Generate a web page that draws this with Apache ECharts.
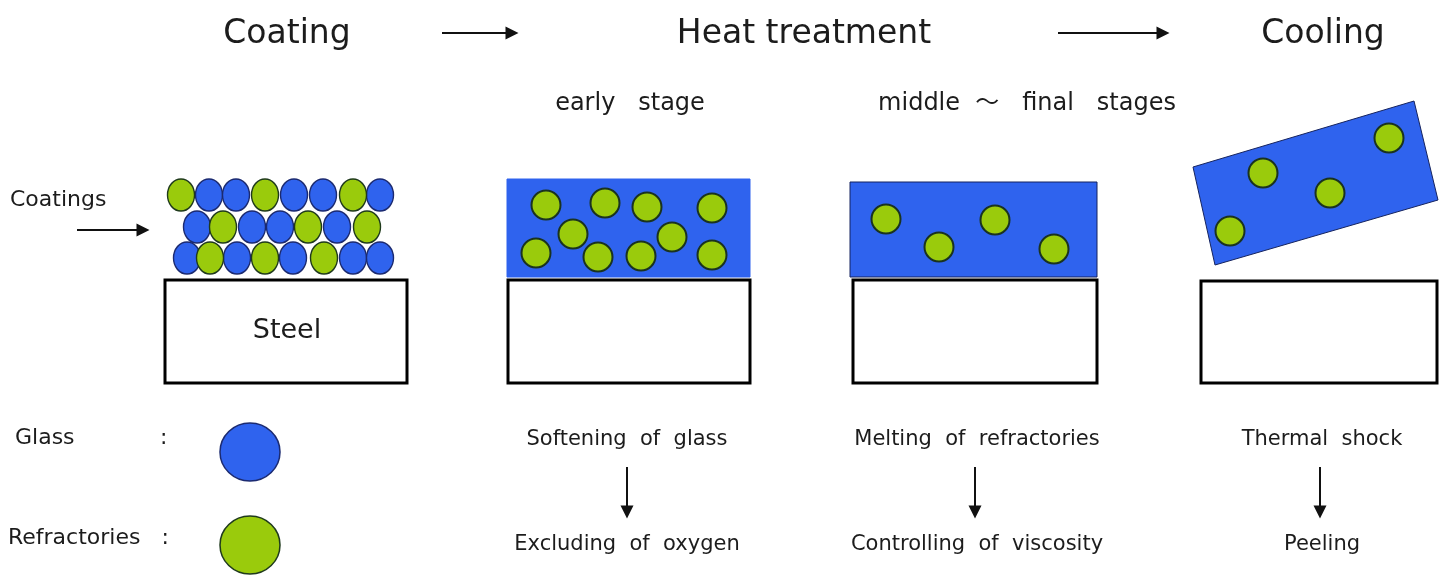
<!DOCTYPE html>
<html>
<head>
<meta charset="utf-8">
<script src="https://cdn.jsdelivr.net/npm/echarts@6/dist/echarts.min.js"></script>
<style>
html,body{margin:0;padding:0;background:#fff;}
#main{width:1455px;height:585px;}
</style>
</head>
<body>
<div id="main"></div>
<script>
// canvas units: x 0..1455, y 0..585 (y downward)
var titleTexts = [['Coating', 287, 34], ['Heat treatment', 804, 34], ['Cooling', 1323, 34]];
var stageTexts = [['early   stage', 630, 104], ['middle  〜   final   stages', 1027, 104]];
var causeTexts = [['Softening  of  glass', 627, 440], ['Melting  of  refractories', 977, 440], ['Thermal  shock', 1322, 440]];
var effectTexts = [['Excluding  of  oxygen', 627, 545], ['Controlling  of  viscosity', 977, 545], ['Peeling', 1322, 545]];
var sideTexts = [['Coatings', 10, 200], ['Glass', 15, 438], [':', 160, 438], ['Refractories   :', 8, 538]];
var steelText = [['Steel', 287, 331]];

// arrows [from, to]
var flowArrows = [[[442, 33], [512, 33]], [[1058, 33], [1163, 33]]];
var smallArrows = [[[77, 230], [143, 230]], [[627, 467], [627, 512]], [[975, 467], [975, 512]], [[1320, 467], [1320, 512]]];

// steel boxes [x1, y1, x2, y2]
var steelBoxes = [[165, 280, 407, 383], [508, 280, 750, 383], [853, 280, 1097, 383], [1201, 281, 1437, 383]];
// molten glass layers, 4 corners each
var glassLayers = [
  [507, 179, 750, 179, 750, 277, 507, 277],
  [850, 182, 1097, 182, 1097, 277, 850, 277],
  [1193, 167, 1414, 101, 1438, 200, 1215, 265]
];

// coating particles
var coatGlass = [[209,195],[236,195],[294,195],[323,195],[380,195],
                 [197,227],[252,227],[280,227],[337,227],
                 [187,258],[237,258],[293,258],[353,258],[380,258]];
var coatRefr = [[181,195],[265,195],[353,195],
                [223,227],[308,227],[367,227],
                [210,258],[265,258],[324,258]];
// refractory particles after heating
var heatRefr = [[546,205],[605,203],[647,207],[712,208],[573,234],[672,237],[536,253],[598,257],[641,256],[712,255],
                [886,219],[939,247],[995,220],[1054,249],
                [1263,173],[1389,138],[1330,193],[1230,231]];
var legendGlass = [[250, 452]];
var legendRefr = [[250, 545]];

var BLUE = '#2f63ee';
var GREEN = '#9acb0c';
var FONT = '"DejaVu Sans", "Noto Sans CJK JP"';

function textSeries(data, size, align) {
  return {
    type: 'scatter', symbolSize: 0, z: 10, silent: true,
    itemStyle: {opacity: 1},
    data: data.map(function (d) { return {value: [d[1], d[2]], name: d[0]}; }),
    label: {
      show: true, position: 'inside', formatter: '{b}', color: '#1c1c1c',
      fontFamily: FONT, fontSize: size, align: align || 'center', verticalAlign: 'middle'
    }
  };
}
function arrowSeries(data, size) {
  return {
    type: 'lines', coordinateSystem: 'cartesian2d', z: 5, silent: true,
    symbol: ['none', 'triangle'], symbolSize: size,
    lineStyle: {color: '#111', width: 2, opacity: 1},
    data: data.map(function (d) { return {coords: d}; })
  };
}

var chart = echarts.init(document.getElementById('main'));
chart.setOption({
  animation: false,
  grid: {left: 0, right: 0, top: 0, bottom: 0},
  xAxis: {type: 'value', min: 0, max: 1455, show: false},
  yAxis: {type: 'value', min: 0, max: 585, inverse: true, show: false},
  series: [
    {
      type: 'custom', z: 1, silent: true, data: steelBoxes,
      renderItem: function (params, api) {
        var a = api.coord([api.value(0), api.value(1)]);
        var b = api.coord([api.value(2), api.value(3)]);
        return {type: 'rect', shape: {x: a[0], y: a[1], width: b[0] - a[0], height: b[1] - a[1]},
          style: {fill: '#fff', stroke: '#000', lineWidth: 3}};
      }
    },
    {
      type: 'custom', z: 2, silent: true, data: glassLayers,
      renderItem: function (params, api) {
        var pts = [];
        for (var i = 0; i < 4; i++) pts.push(api.coord([api.value(2 * i), api.value(2 * i + 1)]));
        return {type: 'polygon', shape: {points: pts},
          style: {fill: BLUE, stroke: params.dataIndex === 0 ? BLUE : '#15235e', lineWidth: 1}};
      }
    },
    {type: 'scatter', z: 3, silent: true, data: coatGlass, symbolSize: [27, 32],
      itemStyle: {color: BLUE, borderColor: '#1b2a70', borderWidth: 1.5, opacity: 1}},
    {type: 'scatter', z: 3, silent: true, data: coatRefr, symbolSize: [27, 32],
      itemStyle: {color: GREEN, borderColor: '#1f3a1c', borderWidth: 1.5, opacity: 1}},
    {type: 'scatter', z: 3, silent: true, data: heatRefr, symbolSize: 29,
      itemStyle: {color: GREEN, borderColor: '#1a3320', borderWidth: 2, opacity: 1}},
    {type: 'scatter', z: 3, silent: true, data: legendGlass, symbolSize: [60, 58],
      itemStyle: {color: BLUE, borderColor: '#1b2a70', borderWidth: 1.5, opacity: 1}},
    {type: 'scatter', z: 3, silent: true, data: legendRefr, symbolSize: [60, 58],
      itemStyle: {color: GREEN, borderColor: '#1f3a1c', borderWidth: 1.5, opacity: 1}},
    arrowSeries(flowArrows, 13),
    arrowSeries(smallArrows, 13),
    textSeries(titleTexts, 33),
    textSeries(stageTexts, 24),
    textSeries(causeTexts, 21),
    textSeries(effectTexts, 21),
    textSeries(sideTexts, 22, 'left'),
    textSeries(steelText, 27)
  ]
});
</script>
</body>
</html>
